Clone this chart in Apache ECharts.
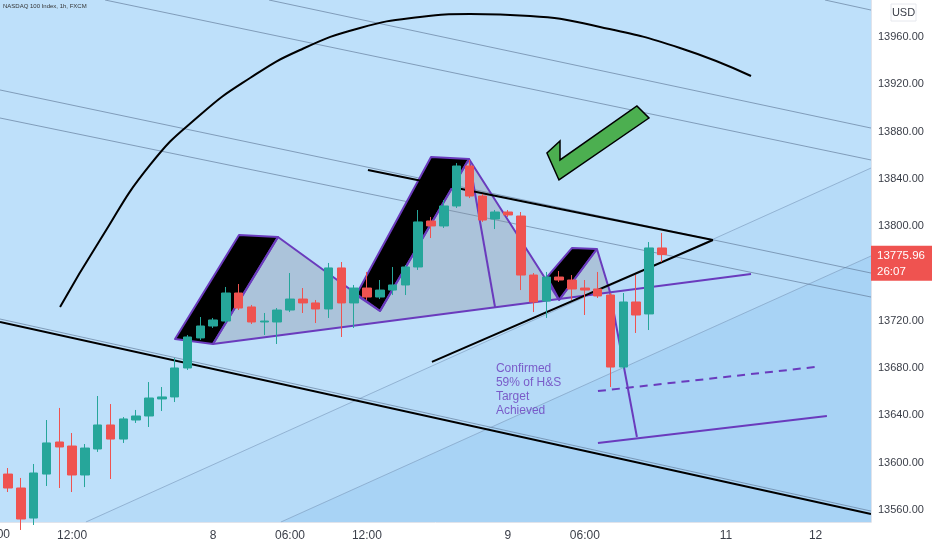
<!DOCTYPE html>
<html><head><meta charset="utf-8">
<script src="https://cdn.jsdelivr.net/npm/echarts@6/dist/echarts.min.js"></script>
<style>html,body{margin:0;padding:0;background:#fff}#c{width:932px;height:550px}</style>
</head><body><div id="c"></div>
<script>
// ---------- data ----------
const chartTitle = 'NASDAQ 100 Index, 1h, FXCM';
const opens  = [13590.4,13578.6,13553.2,13590.4,13617.5,13614.1,13589.6,13611.6,13631.9,13620.0,13636.1,13639.5,13653.9,13655.6,13680.1,13705.5,13715.6,13719.8,13743.5,13731.7,13719.0,13719.0,13729.1,13738.4,13735.1,13730.0,13764.7,13735.1,13747.7,13740.1,13746.0,13750.3,13765.5,13804.4,13800.2,13817.1,13850.9,13825.5,13806.1,13812.0,13808.6,13758.7,13736.7,13757.0,13754.5,13747.7,13746.9,13741.8,13680.9,13735.9,13725.8,13781.6];
const closes = [13578.6,13552.4,13591.3,13616.7,13613.3,13589.6,13612.4,13631.9,13620.0,13637.0,13639.5,13654.7,13655.6,13680.1,13706.3,13715.6,13720.7,13743.5,13730.8,13719.0,13719.8,13729.1,13738.4,13735.1,13730.0,13764.7,13735.1,13747.7,13740.1,13746.0,13750.3,13765.5,13803.6,13800.2,13817.1,13850.9,13825.5,13805.2,13812.0,13809.5,13758.7,13735.9,13757.0,13754.5,13746.9,13746.0,13741.0,13680.9,13735.9,13724.9,13781.6,13775.96];
const lows   = [13575.2,13543.1,13547.3,13580.3,13578.6,13575.2,13579.4,13609.1,13586.2,13616.7,13633.6,13630.2,13643.7,13651.3,13678.4,13703.8,13713.9,13718.1,13729.1,13717.3,13708.0,13700.4,13727.4,13726.6,13718.1,13722.4,13706.3,13713.9,13737.6,13738.4,13741.8,13741.8,13763.0,13790.0,13798.5,13815.4,13823.8,13803.6,13797.6,13807.8,13746.0,13727.4,13722.4,13752.8,13737.6,13724.9,13739.3,13664.0,13679.2,13709.7,13712.2,13769.7];
const highs  = [13595.5,13587.1,13598.9,13636.1,13646.3,13625.1,13615.8,13656.4,13649.6,13638.6,13644.6,13668.2,13664.0,13688.5,13708.0,13723.2,13722.4,13748.6,13751.1,13733.4,13726.6,13730.8,13760.4,13747.7,13737.6,13768.9,13769.7,13750.3,13761.3,13754.5,13765.5,13767.2,13813.7,13807.8,13822.2,13853.4,13856.0,13827.2,13813.7,13813.7,13812.0,13760.4,13761.3,13762.1,13758.7,13754.5,13761.3,13743.5,13743.5,13758.7,13786.6,13794.3];
const timeTickIndex  = [5,16,22,28,39,45,56,63];
const timeTickLabels = ['12:00','8','06:00','12:00','9','06:00','11','12'];
const priceTicks = [13560,13600,13640,13680,13720,13800,13840,13880,13920,13960];
const lastPrice = 13775.96;
const countdown = '26:07';
const currency = 'USD';
const noteText = 'Confirmed\n59% of H&S\nTarget\nAchieved';
const notePoint = [38.14, 13684.3];

// drawings, in (bar index, price)
const arcPts = [[4.06,13731.7],[7.18,13788.3],[11.08,13851.8],[14.98,13894.0],[18.88,13925.3],[22.78,13949.0],[27.46,13967.6],[32.14,13976.9],[36.04,13979.4],[40.72,13977.8],[46.18,13968.5],[52.42,13950.7],[57.96,13927.0]];
const checkPts = [[42.04,13861.9],[43.06,13872.1],[43.06,13856.0],[49.06,13901.7],[50.0,13891.5],[42.98,13839.1]];
const lsBlock = [[13.03,13704.6],[18.02,13792.6],[21.06,13790.9],[15.99,13700.4]];
const headBlock = [[27.15,13741.8],[33.0,13858.5],[35.96,13856.8],[29.02,13728.3]];
const rsBlock = [[42.04,13757.0],[44.0,13781.6],[45.94,13780.7],[43.0,13737.6]];
const patternPts = [[15.99,13700.4],[21.06,13790.9],[29.02,13728.3],[35.96,13856.8],[42.98,13737.6],[45.94,13780.7],[46.96,13744.4]];
const necklinePts = [[15.99,13700.4],[57.96,13759.6]];
const headDropPts = [[35.96,13856.8],[37.99,13731.7]];
const breakDropPts = [[46.96,13744.4],[49.06,13621.7]];
const dashedPts = [[46.02,13660.6],[62.95,13680.9]];
const targetPts = [[46.02,13616.7],[63.88,13639.5]];
const topBlackPts = [[28.08,13847.5],[54.99,13788.3]];
const riseBlackPts = [[33.07,13685.2],[54.99,13788.3]];
const bottomBlackPts = [[-0.624,13719.0],[67.32,13556.6]];
const bottomThinPts = [[-0.624,13721.5],[67.32,13559.1]];
const thinLines = [
  [[7.57,13991.29],[67.32,13856.0]],
  [[20.36,13991.29],[67.32,13883.0]],
  [[63.73,13991.29],[67.32,13982.8]],
  [[-0.624,13915.2],[67.32,13760.4]],
  [[-0.624,13891.5],[67.32,13740.1]]
];
const riseA = [[6.08,13549.85],[67.32,13849.2]];
const riseB = [[21.29,13549.85],[67.32,13774.8]];

const X_MIN = -0.624, X_MAX = 67.32, Y_MIN = 13549.85, Y_MAX = 13991.29;

// ---------- chart ----------
const candleData = opens.map((o, i) => [i, o, closes[i], lows[i], highs[i]]);
const chart = echarts.init(document.getElementById('c'), null, {renderer: 'canvas'});
const FONT = 'Liberation Sans';
const PURPLE = '#6a3bbd';

function poly(pts, style, z) {
  return {
    type: 'custom', z, clip: true, silent: true, data: pts,
    renderItem(params, api) {
      if (params.dataIndex !== 0) return null;
      return {type: 'polygon', shape: {points: pts.map(p => api.coord(p))}, style};
    }
  };
}
function line(pts, color, width, z, extra) {
  return Object.assign({
    type: 'line', data: pts, symbol: 'none', silent: true, z,
    lineStyle: {color, width}
  }, extra || {});
}

const series = [
  poly([riseA[0], riseA[1], riseB[1], riseB[0]], {fill: '#b6dbf8'}, 1),
  poly([riseB[0], riseB[1], [X_MAX, Y_MIN]], {fill: '#a8d3f5'}, 1),
  line(riseA, 'rgba(120,150,185,0.6)', 1, 2),
  line(riseB, 'rgba(120,150,185,0.6)', 1, 2),
  ...thinLines.map(l => line(l, 'rgba(95,120,150,0.65)', 1, 2)),
  line(bottomThinPts, 'rgba(95,120,150,0.65)', 1, 2),
  poly(patternPts.concat([[15.99,13700.4]]), {fill: 'rgba(135,140,155,0.34)'}, 3),
  poly(lsBlock, {fill: '#000', stroke: PURPLE, lineWidth: 2, lineJoin: 'round'}, 3),
  poly(headBlock, {fill: '#000', stroke: PURPLE, lineWidth: 2, lineJoin: 'round'}, 3),
  poly(rsBlock, {fill: '#000', stroke: PURPLE, lineWidth: 2, lineJoin: 'round'}, 3),
  line(patternPts, PURPLE, 2, 4),
  line(necklinePts, PURPLE, 2, 4),
  line(headDropPts, PURPLE, 2, 4),
  line(breakDropPts, PURPLE, 2, 4),
  line(dashedPts, PURPLE, 2, 4, {lineStyle: {color: PURPLE, width: 2, type: [8, 6]}}),
  line(targetPts, PURPLE, 2, 4),
  line(topBlackPts, '#000', 2, 4),
  line(riseBlackPts, '#000', 2, 4),
  line(bottomBlackPts, '#000', 2, 4),
  line(arcPts, '#000', 2, 4, {smooth: 0.5}),
  poly(checkPts, {fill: '#4caf50', stroke: '#000', lineWidth: 1.5, lineJoin: 'miter'}, 4),
  {
    type: 'candlestick', z: 5, data: candleData, barWidth: 9,
    encode: {x: 0, y: [1, 2, 3, 4]},
    itemStyle: {color: '#26a69a', color0: '#ef5350', borderColor: '#26a69a', borderColor0: '#ef5350', borderWidth: 1}
  },
  {
    type: 'scatter', z: 6, data: [notePoint], symbolSize: 2, silent: true,
    itemStyle: {color: 'rgba(0,0,0,0)'},
    label: {show: true, formatter: noteText, position: [0, 0], align: 'left', verticalAlign: 'top',
      color: PURPLE, fontSize: 12, lineHeight: 13.8, fontFamily: FONT}
  }
];

chart.setOption({
  animation: false,
  backgroundColor: '#ffffff',
  grid: {left: 0, right: 61, top: 0, bottom: 28, show: true, backgroundColor: '#bee0fa', borderWidth: 0},
  xAxis: {
    type: 'value', min: X_MIN, max: X_MAX,
    axisLine: {show: true, onZero: false, lineStyle: {color: '#e0e3eb'}},
    axisTick: {show: false}, splitLine: {show: false},
    axisLabel: {customValues: timeTickIndex, formatter: v => timeTickLabels[timeTickIndex.indexOf(Math.round(v))] || '',
      margin: 8, fontSize: 12, color: '#3a3e48', fontFamily: FONT}
  },
  yAxis: {
    type: 'value', min: Y_MIN, max: Y_MAX, position: 'right', z: 10,
    axisLine: {show: true, onZero: false, lineStyle: {color: '#e0e3eb'}},
    axisTick: {show: false}, splitLine: {show: false},
    axisLabel: {customValues: priceTicks, formatter: v => v.toFixed(2), margin: 7, fontSize: 11, color: '#3a3e48', fontFamily: FONT}
  },
  series
});

const py = chart.convertToPixel({yAxisIndex: 0}, lastPrice);
chart.setOption({
  graphic: [
    {type: 'text', left: 3, top: 3, z: 20, style: {text: chartTitle, fontSize: 6, fill: '#333', fontFamily: FONT}},
    {type: 'rect', shape: {x: 891, y: 4, width: 25, height: 17}, z: 20, style: {fill: '#fff', stroke: '#e6e8ee', lineWidth: 1}},
    {type: 'text', x: 903.5, y: 12.5, z: 21, style: {text: currency, fontSize: 11, fill: '#3a3e48', align: 'center', verticalAlign: 'middle', fontFamily: FONT}},
    {type: 'text', x: -5, y: 535, z: 21, style: {text: '06:00', fontSize: 12, fill: '#3a3e48', align: 'center', verticalAlign: 'middle', fontFamily: FONT}},
    {type: 'rect', shape: {x: 871, y: py - 9, width: 61, height: 35}, z: 20, style: {fill: '#ef5350'}},
    {type: 'text', x: 877, y: py + 1.5, z: 21, style: {text: lastPrice.toFixed(2), fontSize: 11.5, fill: '#fff', verticalAlign: 'middle', fontFamily: FONT}},
    {type: 'text', x: 877, y: py + 17.5, z: 21, style: {text: countdown, fontSize: 11.5, fill: '#fff', verticalAlign: 'middle', fontFamily: FONT}}
  ]
});
</script>
</body></html>
